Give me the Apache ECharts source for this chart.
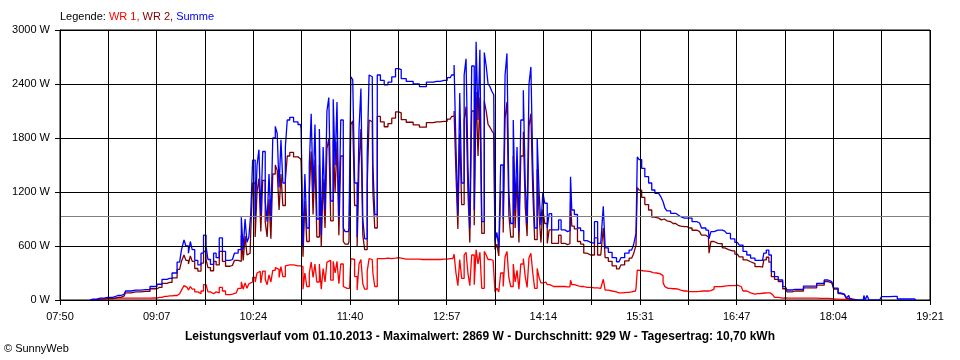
<!DOCTYPE html>
<html><head><meta charset="utf-8">
<script src="https://cdn.jsdelivr.net/npm/echarts@6/dist/echarts.min.js"></script>
<style>html,body{margin:0;padding:0;background:#fff}#c{width:960px;height:360px}</style>
</head><body><div id="c"></div>
<script>
const times = ['08:14','08:16','08:22','08:28','08:36','08:41','08:43','08:50','08:58','09:05',
'09:09','09:13','09:17','09:21','09:25','09:28','09:29','09:31','09:33','09:34',
'09:36','09:38','09:41','09:43','09:45','09:47','09:48','09:51','09:53','09:55',
'09:58','10:00','10:03','10:07','10:10','10:13','10:15','10:16','10:18','10:19',
'10:21','10:22','10:24','10:26','10:27','10:29','10:30','10:32','10:34','10:35',
'10:37','10:38','10:40','10:42','10:43','10:45','10:46','10:48','10:50','10:51',
'10:54','10:57','11:01','11:02','11:04','11:05','11:07','11:09','11:10','11:12',
'11:13','11:15','11:17','11:18','11:20','11:21','11:23','11:24','11:26','11:28',
'11:29','11:31','11:32','11:34','11:36','11:37','11:39','11:40','11:42','11:43',
'11:45','11:47','11:48','11:50','11:51','11:53','11:55','11:56','11:58','11:59',
'12:01','12:03','12:06','12:09','12:12','12:15','12:18','12:20','12:22','12:28',
'12:33','12:38','12:44','12:49','12:55','13:00','13:02','13:04','13:05','13:07',
'13:08','13:10','13:12','13:13','13:15','13:16','13:18','13:20','13:21','13:23',
'13:24','13:26','13:28','13:29','13:31','13:32','13:34','13:35','13:36','13:38',
'13:39','13:41','13:43','13:44','13:46','13:47','13:49','13:51','13:52','13:54',
'13:55','13:57','13:59','14:00','14:02','14:03','14:05','14:06','14:08','14:10',
'14:11','14:13','14:14','14:16','14:18','14:19','14:22','14:25','14:27','14:29',
'14:33','14:35','14:36','14:37','14:40','14:42','14:45','14:47','14:50','14:53',
'14:56','14:58','15:01','15:02','15:04','15:07','15:10','15:14','15:17','15:20',
'15:24','15:27','15:28','15:29','15:31','15:33','15:36','15:39','15:41','15:44',
'15:47','15:48','15:50','15:51','15:53','15:57','16:01','16:03','16:06','16:10',
'16:14','16:18','16:21','16:25','16:26','16:28','16:31','16:34','16:38','16:41',
'16:44','16:48','16:51','16:54','16:57','17:00','17:04','17:08','17:10','17:12',
'17:14','17:16','17:19','17:22','17:26','17:29','17:34','17:38','17:43','17:48',
'17:54','18:00','18:03','18:06','18:10','18:13','18:16','18:17','18:18','18:28',
'18:29','18:30','18:32','18:33','18:41','18:44','18:53','18:57','19:09','19:10'];

const summe = [0,10,20,30,50,65,100,110,115,150,
175,230,240,300,420,560,667,600,520,650,
560,440,390,520,720,600,450,395,520,470,
690,540,440,450,520,560,920,560,900,640,
700,960,1555,900,1500,1670,950,1650,1100,870,
1400,880,1800,1930,1850,1250,1780,1300,1700,2000,
2030,1980,1950,1900,600,1400,800,1500,2070,1200,
1950,900,1900,720,1700,1000,2100,2250,1100,2230,
1500,2200,900,2000,800,760,760,800,2480,2450,
1300,700,1900,2350,900,680,1600,2500,2480,1500,
950,2500,2440,2390,2420,2480,2570,2560,2460,2430,
2400,2370,2420,2430,2440,2470,2500,2610,1700,950,
2300,1300,2500,2680,1500,800,2600,1000,2869,2000,
2780,870,2750,2600,2400,2370,2320,2280,650,750,
580,1500,900,2500,2740,1200,850,2000,1000,1700,
760,2000,2330,1300,850,2400,2590,1500,800,1800,
1200,830,1200,1075,800,960,780,780,890,780,
760,770,1370,1000,950,800,770,660,640,630,
870,630,630,1040,580,530,470,425,470,520,
555,610,740,1590,1560,1463,1370,1300,1222,1185,
1185,1140,1092,1020,990,963,944,925,910,910,
870,855,800,777,680,760,777,777,765,740,
680,640,610,540,500,466,440,440,520,555,
500,315,259,222,148,111,118,118,155,155,
185,222,204,133,78,66,22,50,0,0,
50,0,50,0,0,37,40,11,11,0];

const wr2 = [0,5,10,15,30,45,80,90,95,125,
140,185,195,245,340,430,500,440,400,490,
430,350,320,410,540,450,360,325,430,390,
540,430,375,385,440,430,720,440,710,500,
520,760,1300,700,1200,1350,760,1330,870,700,
1120,680,1400,1500,1440,1000,1400,1050,1330,1600,
1640,1590,1570,1540,480,1100,650,1200,1650,950,
1560,700,1500,600,1350,800,1680,1800,880,1780,
1200,1760,720,1600,650,620,620,650,1950,1990,
1050,600,1500,1900,720,560,1280,2000,1980,1200,
800,2040,1980,1925,1960,2020,2090,2080,2005,1975,
1945,1920,1970,1980,1985,2010,2040,2100,1400,790,
1850,1060,2000,2150,1200,640,2100,830,2310,1600,
2250,740,2210,2100,1950,1920,1880,1850,560,620,
490,1200,750,2020,2200,950,700,1600,800,1370,
640,1600,1870,1040,710,1930,2070,1200,670,1450,
950,640,1010,850,630,780,630,630,720,630,
615,625,1100,820,790,650,620,520,500,500,
690,500,505,800,470,430,380,345,390,435,
465,510,610,1250,1220,1140,1060,1000,920,910,
900,890,900,880,870,850,830,820,815,800,
775,760,720,700,520,650,630,625,580,560,
545,510,480,445,425,405,370,365,445,475,
420,259,230,204,125,90,100,100,135,135,
165,205,190,122,70,60,18,18,0,null,
null,null,null,null,null,null,null,null,null,null];

const wr1 = [0,5,10,15,20,20,20,20,20,22,
30,40,45,50,70,110,160,140,110,150,
120,90,70,100,170,150,90,70,90,80,
140,100,60,65,80,130,200,120,190,130,
180,200,250,200,300,320,190,320,230,170,
280,200,330,360,340,250,370,260,380,390,
390,380,380,370,120,300,150,300,420,250,
400,200,400,120,350,200,420,440,220,430,
300,430,180,400,150,130,130,130,460,450,
260,110,400,450,180,120,320,460,450,300,
150,460,460,465,460,465,470,465,455,455,
455,450,450,450,455,460,460,510,300,160,
450,240,500,530,300,160,500,170,559,400,
530,130,540,500,450,450,440,430,90,130,
90,300,150,480,540,250,150,400,200,330,
120,400,460,260,140,470,520,300,130,350,
250,190,190,200,170,170,150,150,150,150,
145,145,220,170,160,150,150,140,140,135,
135,130,130,230,110,100,90,80,80,85,
90,100,130,333,330,325,320,315,305,300,
290,270,190,148,130,125,120,111,100,92,
92,95,100,100,105,120,148,150,155,160,
160,165,150,100,80,65,70,75,78,80,
80,60,30,20,22,20,20,20,20,20,
18,18,15,10,8,6,4,2,0,null,
null,null,null,null,null,null,null,null,null,null];

const tickLabels = ['07:50','09:07','10:24','11:40','12:57','14:14','15:31','16:47','18:04','19:21'];
const startTime = '07:50';
const endTime = '19:21';
const average = 929;
const legendParts = ['Legende: ', 'WR 1, ', 'WR 2, ', 'Summe'];
const footer = 'Leistungsverlauf vom 01.10.2013 - Maximalwert: 2869 W - Durchschnitt: 929 W - Tagesertrag: 10,70 kWh';
const copyright = '\u00A9 SunnyWeb';

const toMin = t => { const p = t.split(':').map(Number); return p[0] * 60 + p[1]; };
const t0 = toMin(startTime);
const span = toMin(endTime) - t0;
const step = span / 18;
const pts = arr => times.map((t, i) => [toMin(t) - t0, arr[i]]);

const FONT = 'Liberation Sans';
const chart = echarts.init(document.getElementById('c'), null, {renderer: 'canvas'});
const lineSeries = (name, arr, color, z) => ({
  name, type: 'line', data: pts(arr), step: 'middle', showSymbol: false, symbol: 'none',
  lineStyle: {color, width: 1.3}, itemStyle: {color}, z, animation: false, connectNulls: false
});
chart.setOption({
  animation: false,
  textStyle: {fontFamily: FONT},
  title: [
    {left: 60, top: 11, padding: 0,
     text: '{a|' + legendParts[0] + '}{b|' + legendParts[1] + '}{c|' + legendParts[2] + '}{d|' + legendParts[3] + '}',
     textStyle: {fontSize: 11, fontWeight: 'normal', fontFamily: FONT,
       rich: {a: {color: '#000', fontSize: 11, fontFamily: FONT}, b: {color: '#ff0000', fontSize: 11, fontFamily: FONT},
              c: {color: '#800000', fontSize: 11, fontFamily: FONT}, d: {color: '#0000ff', fontSize: 11, fontFamily: FONT}}}},
    {left: 'center', top: 331, padding: 0, text: footer,
     textStyle: {fontSize: 12, fontWeight: 'bold', color: '#000', fontFamily: FONT}},
    {left: 4, top: 343, padding: 0, text: copyright,
     textStyle: {fontSize: 11, fontWeight: 'normal', color: '#000', fontFamily: FONT}}
  ],
  grid: {left: 60, right: 30, top: 30, bottom: 60, show: true, borderColor: '#000', borderWidth: 1, backgroundColor: '#fff'},
  xAxis: {
    type: 'value', min: 0, max: span, interval: step, z: 5,
    axisLine: {show: true, lineStyle: {color: '#000', width: 1}},
    axisTick: {show: true, length: 5, lineStyle: {color: '#000'}},
    splitLine: {show: true, lineStyle: {color: '#000', width: 1}},
    axisLabel: {color: '#000', fontSize: 11, margin: 11, fontFamily: FONT,
      formatter: v => { const k = Math.round(v / step); return k % 2 === 0 ? (tickLabels[k / 2] || '') : ''; }}
  },
  yAxis: {
    type: 'value', min: 0, max: 3000, interval: 600, z: 5,
    axisLine: {show: true, lineStyle: {color: '#000', width: 1}},
    axisTick: {show: true, length: 5, lineStyle: {color: '#000'}},
    splitLine: {show: true, lineStyle: {color: '#000', width: 1}},
    axisLabel: {color: '#000', fontSize: 11, margin: 10, fontFamily: FONT, formatter: v => String(v) + ' W'}
  },
  series: [
    lineSeries('WR 1', wr1, '#ff0000', 2),
    lineSeries('WR 2', wr2, '#800000', 3),
    lineSeries('Summe', summe, '#0000ff', 4),
    {type: 'line', data: [], z: 6, silent: true,
     markLine: {silent: true, symbol: 'none', animation: false, label: {show: false},
       lineStyle: {color: '#808080', type: 'solid', width: 1}, data: [{yAxis: average}]}}
  ]
});
</script></body></html>
